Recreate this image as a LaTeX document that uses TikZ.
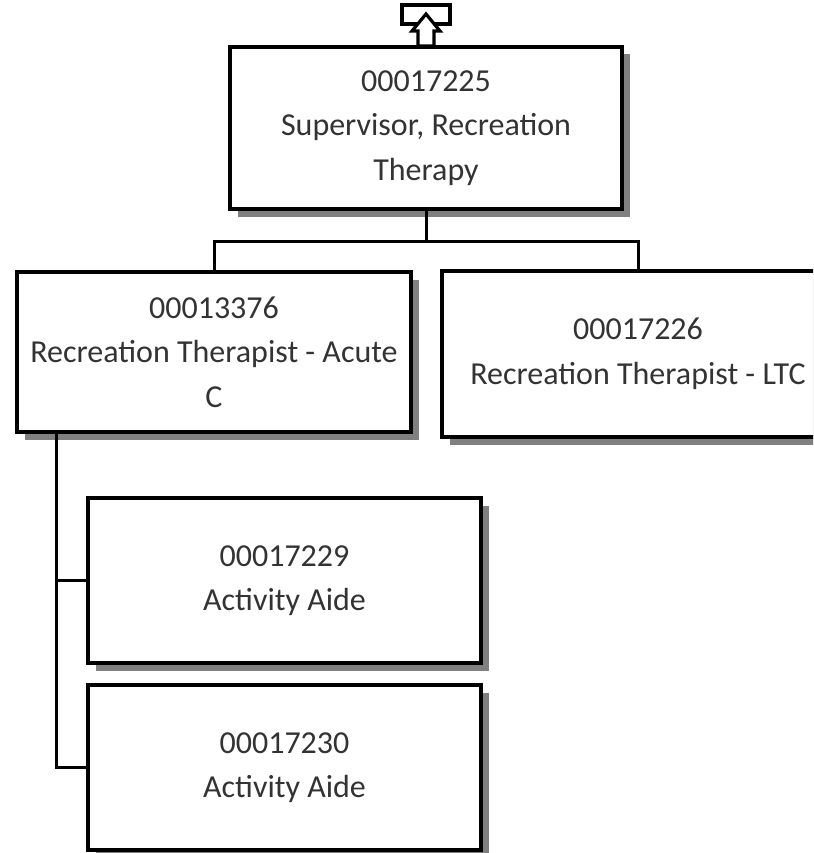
\documentclass[tikz,border=0pt]{standalone}
\usepackage{fontspec}
\setmainfont{Carlito}
\usetikzlibrary{shadows}
\tikzset{
  orgbox/.style={draw=black, line width=3.2pt, fill=white, align=center,
    font=\fontsize{32}{44.5}\selectfont, text=black!80,
    drop shadow={shadow xshift=7.5pt, shadow yshift=-7.5pt, opacity=1, fill=black!50}},
  conn/.style={draw=black, line width=3pt},
}
\begin{document}
\begin{tikzpicture}[x=1pt, y=-1pt]
\useasboundingbox (0,0) rectangle (813,853);
\clip (0,0) rectangle (813,853);
% up-arrow icon
\draw[line width=3.2pt, fill=white] (402,5) rectangle (450,24);
\draw[line width=3.2pt, fill=white, line join=miter]
  (426,14) -- (440,31) -- (434,31) -- (434,46) -- (418,46) -- (418,31) -- (412,31) -- cycle;
% boxes
\node[orgbox, minimum width=392pt, minimum height=162pt] (top) at (426,128)
  {00017225\\Supervisor, Recreation\\Therapy};
\node[orgbox, minimum width=394pt, minimum height=160pt] (left) at (214,352)
  {00013376\\Recreation Therapist - Acute\\C};
\node[orgbox, minimum width=392pt, minimum height=166pt] (right) at (638,354)
  {00017226\\Recreation Therapist - LTC};
\node[orgbox, minimum width=393pt, minimum height=165pt] (aide1) at (284.5,580.5)
  {00017229\\Activity Aide};
\node[orgbox, minimum width=393pt, minimum height=165pt] (aide2) at (284.5,767.5)
  {00017230\\Activity Aide};
% connectors
\coordinate (j) at (426,241);
\draw[conn] (top.south) -- (j);
\draw[conn] (left.north) |- (j);
\draw[conn] (right.north) |- (j);
\coordinate (k) at ([xshift=41pt]left.south west);
\draw[conn] (k) |- (aide1.west);
\draw[conn] (k) |- (aide2.west);
\end{tikzpicture}
\end{document}
